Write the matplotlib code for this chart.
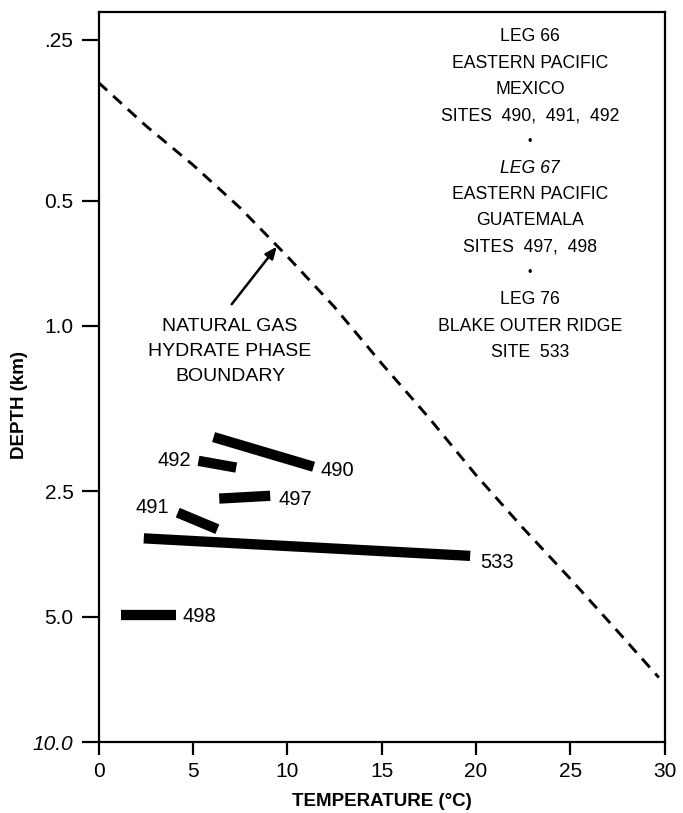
import matplotlib
matplotlib.use("Agg")
import matplotlib.pyplot as plt
from matplotlib.ticker import FixedLocator, NullLocator

plt.rcParams['font.family'] = ['Liberation Sans', 'DejaVu Sans']

# Natural gas hydrate phase boundary: temperature (°C) vs depth (km)
boundary_temp = [0, 2.5, 5, 7.5, 10, 12.5, 15, 17.5, 20, 22.5, 25, 27.5, 29.7]
boundary_depth = [0.26, 0.33, 0.41, 0.52, 0.68, 0.90, 1.23, 1.66, 2.28, 3.06, 4.05, 5.41, 7.0]

# Temperature / depth ranges of the hydrate-bearing intervals at each site
sites = ['490', '492', '497', '491', '533', '498']
site_temp_start = [6.1, 5.3, 6.4, 4.2, 2.4, 1.2]
site_temp_end = [11.4, 7.3, 9.1, 6.3, 19.7, 4.1]
site_depth_start = [1.85, 2.11, 2.60, 2.81, 3.24, 4.95]
site_depth_end = [2.18, 2.19, 2.56, 3.08, 3.57, 4.95]

temp_ticks = [0, 5, 10, 15, 20, 25, 30]
depth_ticks = [0.205, 0.5, 1.0, 2.5, 5.0, 10.0]
depth_tick_labels = ['.25', '0.5', '1.0', '2.5', '5.0', '10.0']

legend_lines = [
    ('LEG 66', 'normal'),
    ('EASTERN PACIFIC', 'normal'),
    ('MEXICO', 'normal'),
    ('SITES  490,  491,  492', 'normal'),
    ('•', 'dot'),
    ('LEG 67', 'italic'),
    ('EASTERN PACIFIC', 'normal'),
    ('GUATEMALA', 'normal'),
    ('SITES  497,  498', 'normal'),
    ('•', 'dot'),
    ('LEG 76', 'normal'),
    ('BLAKE OUTER RIDGE', 'normal'),
    ('SITE  533', 'normal'),
]

W, H = 683, 813
fig = plt.figure(figsize=(W / 100, H / 100), dpi=100)
ax = fig.add_axes([98.5 / W, 1 - 742 / H, 566 / W, 730 / H])

ax.set_yscale('log')
ax.set_xlim(0, 30)
ax.set_ylim(10, 0.176)

# phase boundary
ax.plot(boundary_temp, boundary_depth, color='black', lw=2.1,
        linestyle=(0, (4.0, 2.8)), solid_capstyle='butt')

# site intervals as thick bars with labels
label_side = {'490': 'end', '492': 'start', '497': 'end',
              '491': 'start', '533': 'end', '498': 'end'}
label_offset = {'490': (5, -1.5), '492': (-5, 2), '497': (6, -1.5),
                '491': (-6, 5), '533': (7, -3.5), '498': (5, 0)}
for name, t0, t1, d0, d1 in zip(sites, site_temp_start, site_temp_end,
                                site_depth_start, site_depth_end):
    ax.plot([t0, t1], [d0, d1], color='black', lw=7.4, solid_capstyle='butt')
    if label_side[name] == 'end':
        xy, ha = (t1, d1), 'left'
    else:
        xy, ha = (t0, d0), 'right'
    ax.annotate(name, xy=xy, xytext=label_offset[name], textcoords='offset points',
                ha=ha, va='center_baseline', fontsize=14.5)

# pointer to the boundary
ax.annotate('', xy=(9.45, 0.645), xytext=(7.06, 0.887),
            arrowprops=dict(arrowstyle='-|>,head_length=0.7,head_width=0.3',
                            color='black', lw=1.8, shrinkA=0, shrinkB=0))
boundary_text = ['NATURAL GAS', 'HYDRATE PHASE', 'BOUNDARY']
for i, line in enumerate(boundary_text):
    fig.text(230 / W, 1 - (326.7 + 25 * i) / H, line, ha='center', va='center',
             fontsize=14, transform=fig.transFigure)

# cruise / site key
y0 = 36.7
for i, (line, style) in enumerate(legend_lines):
    ypix = y0 + 26.3 * i
    if style == 'dot':
        ypix += 0
        fig.text(530 / W, 1 - ypix / H, line, ha='center', va='center',
                 fontsize=9)
    else:
        fig.text(530 / W, 1 - ypix / H, line, ha='center', va='center',
                 fontsize=12.7, fontstyle=style)

# axes styling
for sp in ax.spines.values():
    sp.set_linewidth(1.6)
ax.xaxis.set_major_locator(FixedLocator(temp_ticks))
ax.set_xticklabels([str(t) for t in temp_ticks])
ax.yaxis.set_major_locator(FixedLocator(depth_ticks))
ax.yaxis.set_minor_locator(NullLocator())
ax.set_yticklabels(depth_tick_labels)
ax.tick_params(axis='y', direction='out', length=12, width=1.6, pad=6, labelsize=15)
ax.tick_params(axis='x', direction='out', length=9.5, width=1.6, pad=5, labelsize=15)
ax.get_yticklabels()[-1].set_fontstyle('italic')

fig.text(382 / W, 1 - 801.7 / H, 'TEMPERATURE (°C)', ha='center', va='center',
         fontsize=13.5, fontweight='bold')
fig.text(20 / W, 1 - 405 / H, 'DEPTH (km)', ha='center', va='center',
         fontsize=13.5, fontweight='bold', rotation=90)

fig.savefig('out.png', dpi=100)
